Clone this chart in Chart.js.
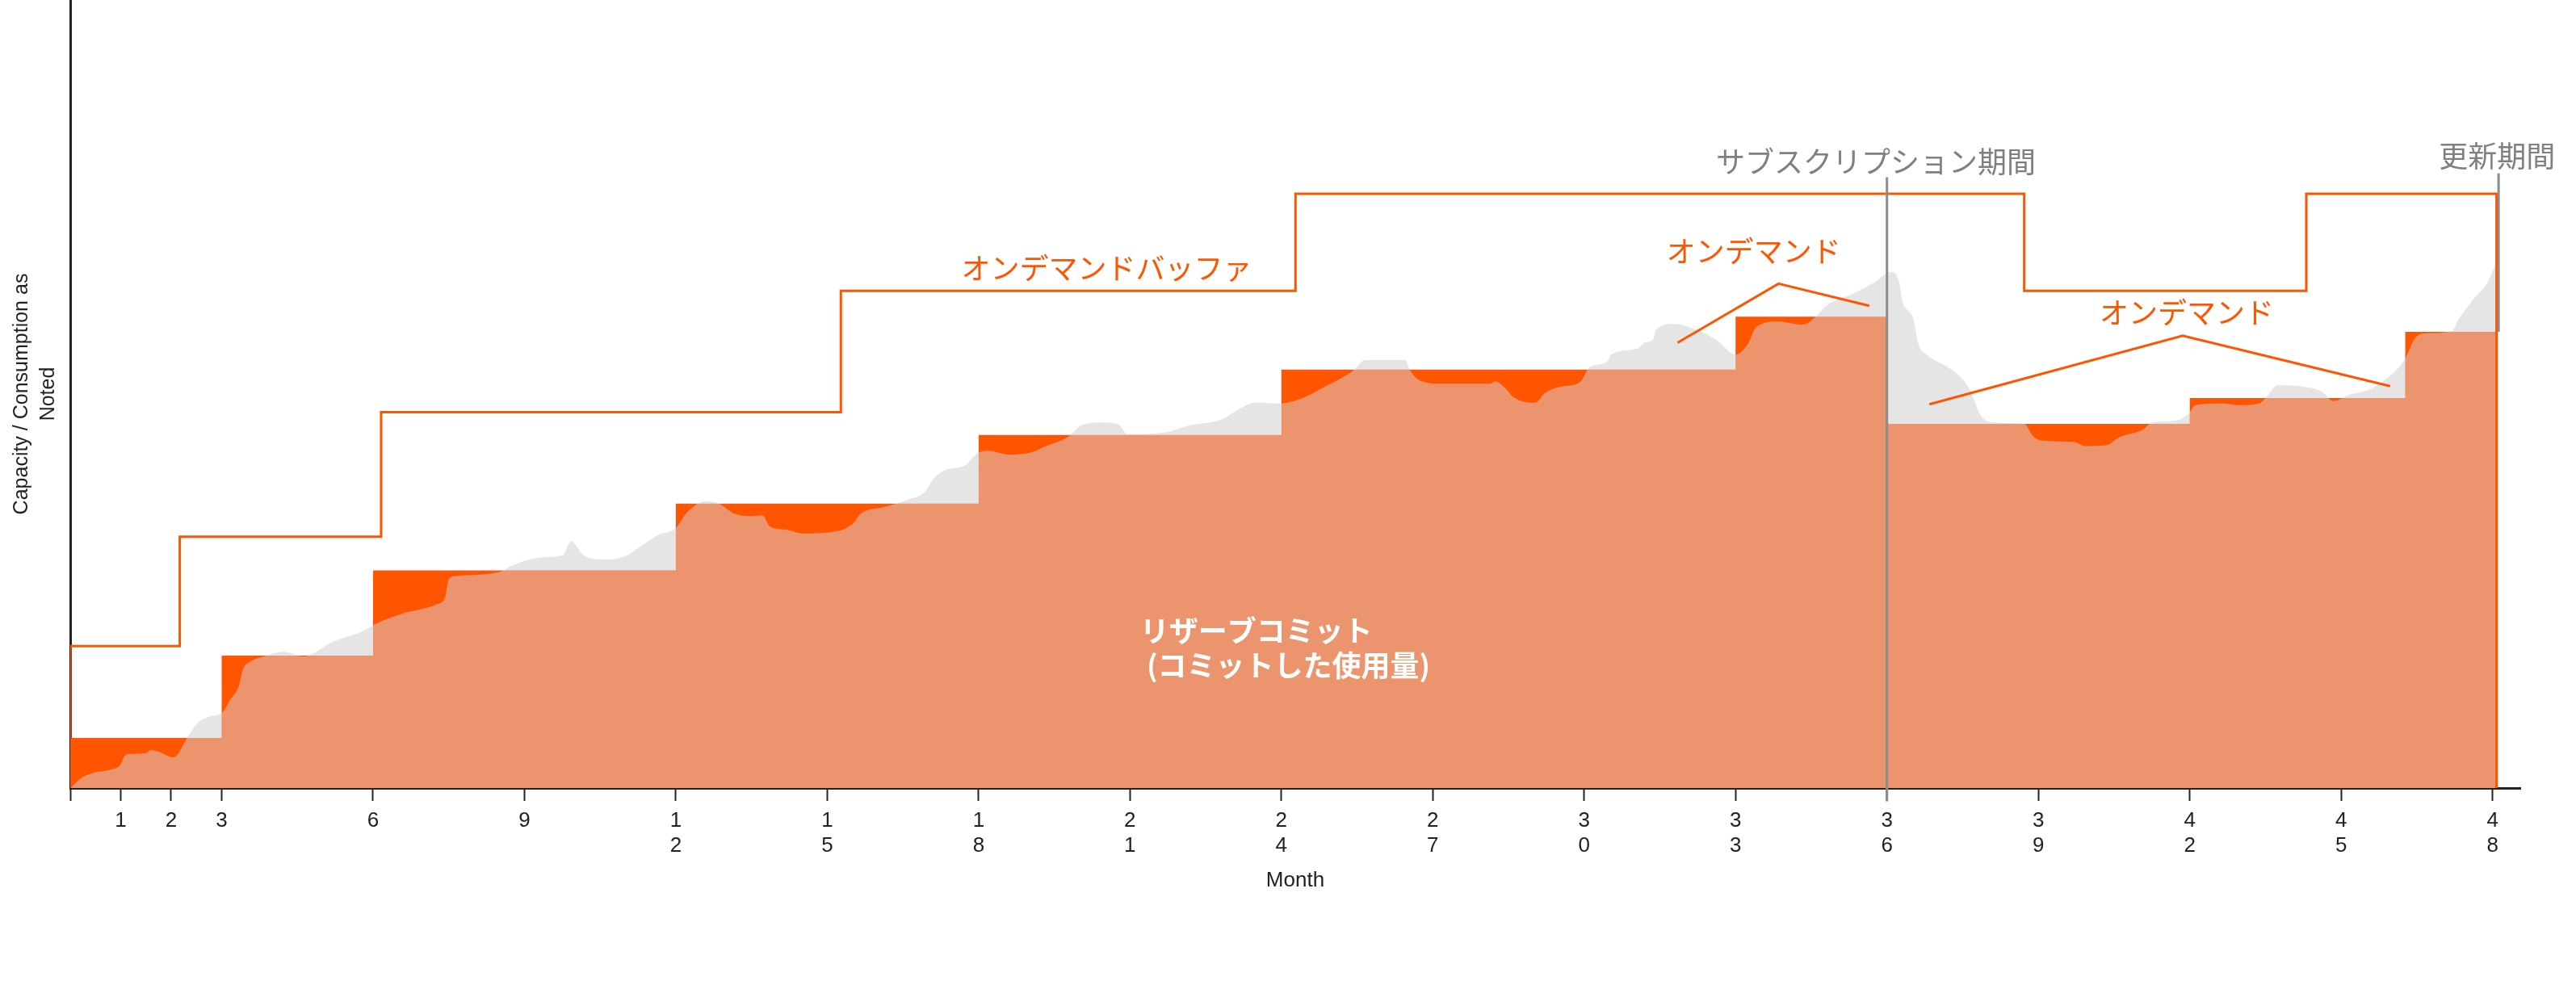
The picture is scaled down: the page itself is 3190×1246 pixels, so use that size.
<!DOCTYPE html>
<html lang="ja">
<head>
<meta charset="utf-8">
<title>リザーブコミット</title>
<script src="https://cdn.jsdelivr.net/npm/chart.js@4.4.1/dist/chart.umd.min.js"></script>
<style>
  html, body { margin: 0; padding: 0; background: #ffffff; }
  #wrap { width: 3190px; height: 1246px; }
</style>
</head>
<body>
<div id="wrap"><canvas id="grafico" width="3190" height="1246"></canvas></div>
<script>
// consumo effettivo (curva grigia), mese -> valore
var usageMonths = [0, 0.25, 0.45, 0.84, 1.0, 1.07, 1.15, 1.49, 1.59, 1.71, 2.05, 2.33, 2.5, 2.77,
    3.0, 3.17, 3.34, 3.42, 3.56, 3.84, 4.23, 4.62, 4.85, 5.12, 5.44, 5.76, 6.08, 6.57, 7.26, 7.43,
    7.5, 7.65, 8.56, 8.71, 9.4, 9.76, 9.92, 10.18, 10.54, 10.95, 11.38, 11.64, 12.0, 12.21, 12.6,
    12.85, 13.17, 13.47, 13.72, 13.86, 14.16, 14.53, 15.2, 15.56, 15.63, 16.16, 16.61, 16.94, 17.11,
    17.36, 17.72, 17.98, 18.19, 18.61, 19.04, 19.34, 19.76, 20.06, 20.48, 20.78, 20.95, 21.68, 22.17,
    22.83, 23.19, 23.49, 23.98, 24.39, 24.82, 25.41, 25.66, 26.45, 26.56, 26.75, 27.22, 28.13, 28.24,
    28.43, 28.6, 29.03, 29.22, 29.51, 29.92, 30.11, 30.47, 30.53, 31.07, 31.19, 31.37, 31.43, 31.79,
    32.28, 32.64, 33.0, 33.24, 33.41, 33.83, 34.34, 34.55, 34.82, 35.32, 35.76, 36.08, 36.25, 36.3,
    36.52, 36.62, 36.81, 37.18, 37.45, 37.63, 37.85, 38.07, 38.72, 38.89, 39.05, 39.71, 39.93, 40.35,
    40.57, 40.79, 41.08, 41.23, 41.78, 42.0, 42.11, 42.64, 42.97, 43.37, 43.52, 43.74, 44.29, 44.62,
    44.84, 45.16, 45.6, 46.04, 46.26, 46.48, 46.7, 47.19, 47.34, 47.67, 47.89, 48.08];
var usageValues = [0, 1.4, 1.9, 2.4, 3.0, 4.0, 4.3, 4.4, 4.8, 4.7, 3.9, 6.5, 8.1, 9.1,
    9.5, 11.2, 12.9, 15.0, 16.0, 16.7, 17.3, 16.7, 17.2, 18.3, 19.1, 19.8, 20.9, 22.1, 23.3, 24.2,
    26.5, 26.9, 27.5, 28.1, 29.3, 29.5, 31.3, 29.5, 29.0, 29.3, 31.0, 32.1, 33.0, 34.9, 36.4,
    36.1, 34.8, 34.5, 34.6, 33.2, 32.8, 32.3, 32.6, 33.9, 34.6, 35.7, 36.6, 37.6, 39.3,
    40.4, 40.9, 42.5, 42.8, 42.3, 42.6, 43.4, 44.5, 46.1, 46.4, 46.1, 44.9, 45.1, 46.0,
    46.8, 48.2, 48.9, 48.8, 49.4, 50.8, 52.9, 54.3, 54.3, 52.9, 51.7, 51.3, 51.3, 51.6,
    50.8, 49.6, 48.9, 50.1, 50.9, 51.5, 53.4, 54.2, 55.0, 55.8, 56.5, 57.0, 58.2, 58.9,
    58.0, 56.8, 55.0, 56.3, 58.5, 59.2, 58.8, 59.6, 61.3, 62.7, 64.2, 65.5, 64.0, 61.9,
    59.6, 56.4, 54.9, 53.5, 52.2, 50.7, 47.4, 46.4, 46.2, 44.7, 44.1, 43.9, 43.4, 43.5,
    44.4, 44.9, 45.5, 46.3, 46.7, 47.7, 48.6, 48.8, 48.6, 48.8, 49.6, 51.1, 50.9, 50.3,
    49.1, 49.9, 50.7, 52.7, 54.4, 57.2, 57.7, 58.0, 59.6, 62.4, 64.0, 66.9];

// リザーブコミット: mese di inizio di ogni gradino e livello
var commitStarts = [0, 3, 6, 12, 18, 24, 33, 36, 42, 46.27, 48.08];
var commitLevels = [6.35, 16.8, 27.6, 36.1, 44.8, 53.1, 59.8, 46.2, 49.5, 57.9, 57.9];

// オンデマンドバッファ (linea a gradini)
var bufferStarts = [0, 0, 2.17, 6.16, 15.27, 24.28, 38.72, 44.31, 48.08];
var bufferLevels = [0, 18.0, 31.9, 47.7, 63.1, 75.4, 63.1, 75.4, 0];

// asse x
var tickMonths = [0, 1, 2, 3, 6, 9, 12, 15, 18, 21, 24, 27, 30, 33, 36, 39, 42, 45, 48];
var tickLabels = ['', '1', '2', '3', '6', '9', '12', '15', '18', '21', '24', '27', '30', '33',
    '36', '39', '42', '45', '48'];

// linee di richiamo per "オンデマンド"
var calloutTopX = [31.85, 33.85, 35.65];
var calloutTopY = [56.5, 64.0, 61.2];
var calloutBottomX = [36.84, 41.86, 45.97];
var calloutBottomY = [48.7, 57.4, 51.0];

// etichette arancioni
var orangeNotes = ['オンデマンドバッファ', 'オンデマンド', 'オンデマンド'];
var orangeNotesX = [20.54, 33.36, 41.94];
var orangeNotesY = [66.0, 68.1, 60.3];

// periodi (linee verticali grigie)
var periodLabels = ['サブスクリプション期間', '更新期間'];
var periodMonths = [36, 48.12];
var periodTops = [77.5, 78.0];
var periodBottoms = [-1.7, 57.9];
var periodLabelX = [35.78, 48.09];
var periodLabelY = [79.5, 80.2];

// testo bianco dentro l'area
var reserveLines = ['リザーブコミット', '(コミットした使用量)'];
var reserveX = [21.2, 21.33];
var reserveY = [19.9, 15.5];

var ORANGE = '#FF5500';
var SALMON = '#EB946D';
var GRIGIO = '#E5E5E5';
var JP = '"Noto Sans CJK JP", sans-serif';
var LATIN = '"Liberation Sans", Arial, sans-serif';

function toPoints(xs, ys) {
    var punti = [];
    for (var i = 0; i < xs.length; i++) {
        punti.push({ x: xs[i], y: ys[i] });
    }
    return punti;
}

var annotazioni = {
    id: 'annotazioni',
    afterDatasetsDraw: function (chart) {
        var ctx = chart.ctx;
        var sx = chart.scales.x;
        var sy = chart.scales.y;
        var i;
        ctx.save();

        ctx.strokeStyle = '#8C8C8C';
        ctx.lineWidth = 3;
        for (i = 0; i < periodMonths.length; i++) {
            var px = sx.getPixelForValue(periodMonths[i]);
            ctx.beginPath();
            ctx.moveTo(px, sy.getPixelForValue(periodTops[i]));
            ctx.lineTo(px, sy.getPixelForValue(periodBottoms[i]));
            ctx.stroke();
        }

        ctx.textBaseline = 'middle';
        ctx.textAlign = 'center';
        ctx.font = '36px ' + JP;
        ctx.fillStyle = '#808080';
        for (i = 0; i < periodLabels.length; i++) {
            ctx.fillText(periodLabels[i], sx.getPixelForValue(periodLabelX[i]), sy.getPixelForValue(periodLabelY[i]));
        }

        ctx.fillStyle = ORANGE;
        for (i = 0; i < orangeNotes.length; i++) {
            ctx.fillText(orangeNotes[i], sx.getPixelForValue(orangeNotesX[i]), sy.getPixelForValue(orangeNotesY[i]));
        }

        ctx.textAlign = 'left';
        ctx.font = 'bold 36px ' + JP;
        ctx.fillStyle = '#FFFFFF';
        for (i = 0; i < reserveLines.length; i++) {
            ctx.fillText(reserveLines[i], sx.getPixelForValue(reserveX[i]), sy.getPixelForValue(reserveY[i]));
        }
        ctx.restore();
    }
};

var ctx = document.getElementById('grafico');
var chart = new Chart(ctx, {
    type: 'line',
    data: {
        datasets: [{
            label: 'consumo',
            data: toPoints(usageMonths, usageValues),
            order: 2,
            borderWidth: 0,
            borderColor: 'rgba(0,0,0,0)',
            pointRadius: 0,
            cubicInterpolationMode: 'monotone',
            fill: { target: 1, above: GRIGIO, below: ORANGE }
        }, {
            label: 'commit',
            data: toPoints(commitStarts, commitLevels),
            order: 3,
            stepped: true,
            borderWidth: 0,
            borderColor: 'rgba(0,0,0,0)',
            backgroundColor: SALMON,
            pointRadius: 0,
            fill: 'origin'
        }, {
            label: 'buffer',
            data: toPoints(bufferStarts, bufferLevels),
            order: 1,
            stepped: true,
            borderColor: ORANGE,
            borderWidth: 3,
            pointRadius: 0,
            fill: false
        }, {
            label: 'richiamo 1',
            data: toPoints(calloutTopX, calloutTopY),
            order: 0,
            borderColor: ORANGE,
            borderWidth: 3,
            pointRadius: 0,
            fill: false
        }, {
            label: 'richiamo 2',
            data: toPoints(calloutBottomX, calloutBottomY),
            order: 0,
            borderColor: ORANGE,
            borderWidth: 3,
            pointRadius: 0,
            fill: false
        }]
    },
    options: {
        responsive: false,
        animation: false,
        devicePixelRatio: 1,
        layout: { padding: { left: 0, right: 69, top: 0, bottom: 0 } },
        plugins: {
            legend: { display: false },
            tooltip: { enabled: false }
        },
        scales: {
            x: {
                type: 'linear',
                min: 0,
                max: 48.55,
                z: 1,
                afterFit: function (scale) { scale.height = 270; },
                afterBuildTicks: function (scale) {
                    scale.ticks = tickMonths.map(function (v) { return { value: v }; });
                },
                grid: {
                    display: true,
                    drawOnChartArea: false,
                    drawTicks: true,
                    tickLength: 16,
                    tickWidth: 2,
                    tickColor: '#222222'
                },
                border: { display: true, color: '#222222', width: 3 },
                ticks: {
                    autoSkip: false,
                    maxRotation: 0,
                    minRotation: 0,
                    padding: 9,
                    color: '#222222',
                    font: { family: LATIN, size: 26 },
                    callback: function (value) {
                        var lab = tickLabels[tickMonths.indexOf(value)] || '';
                        return lab.length > 1 ? lab.split('') : lab;
                    }
                },
                title: {
                    display: true,
                    text: 'Month',
                    color: '#222222',
                    font: { family: LATIN, size: 26 },
                    padding: { top: 0, bottom: 140 }
                }
            },
            y: {
                min: 0,
                max: 100,
                z: 1,
                afterFit: function (scale) { scale.width = 87; },
                grid: { display: false, drawTicks: false },
                border: { display: true, color: '#222222', width: 3 },
                ticks: { display: false },
                title: {
                    display: true,
                    text: ['Capacity / Consumption as', 'Noted'],
                    color: '#222222',
                    font: { family: LATIN, size: 25, lineHeight: 1.3 },
                    padding: { top: 11, bottom: 0 }
                }
            }
        }
    },
    plugins: [annotazioni]
});
</script>
</body>
</html>
